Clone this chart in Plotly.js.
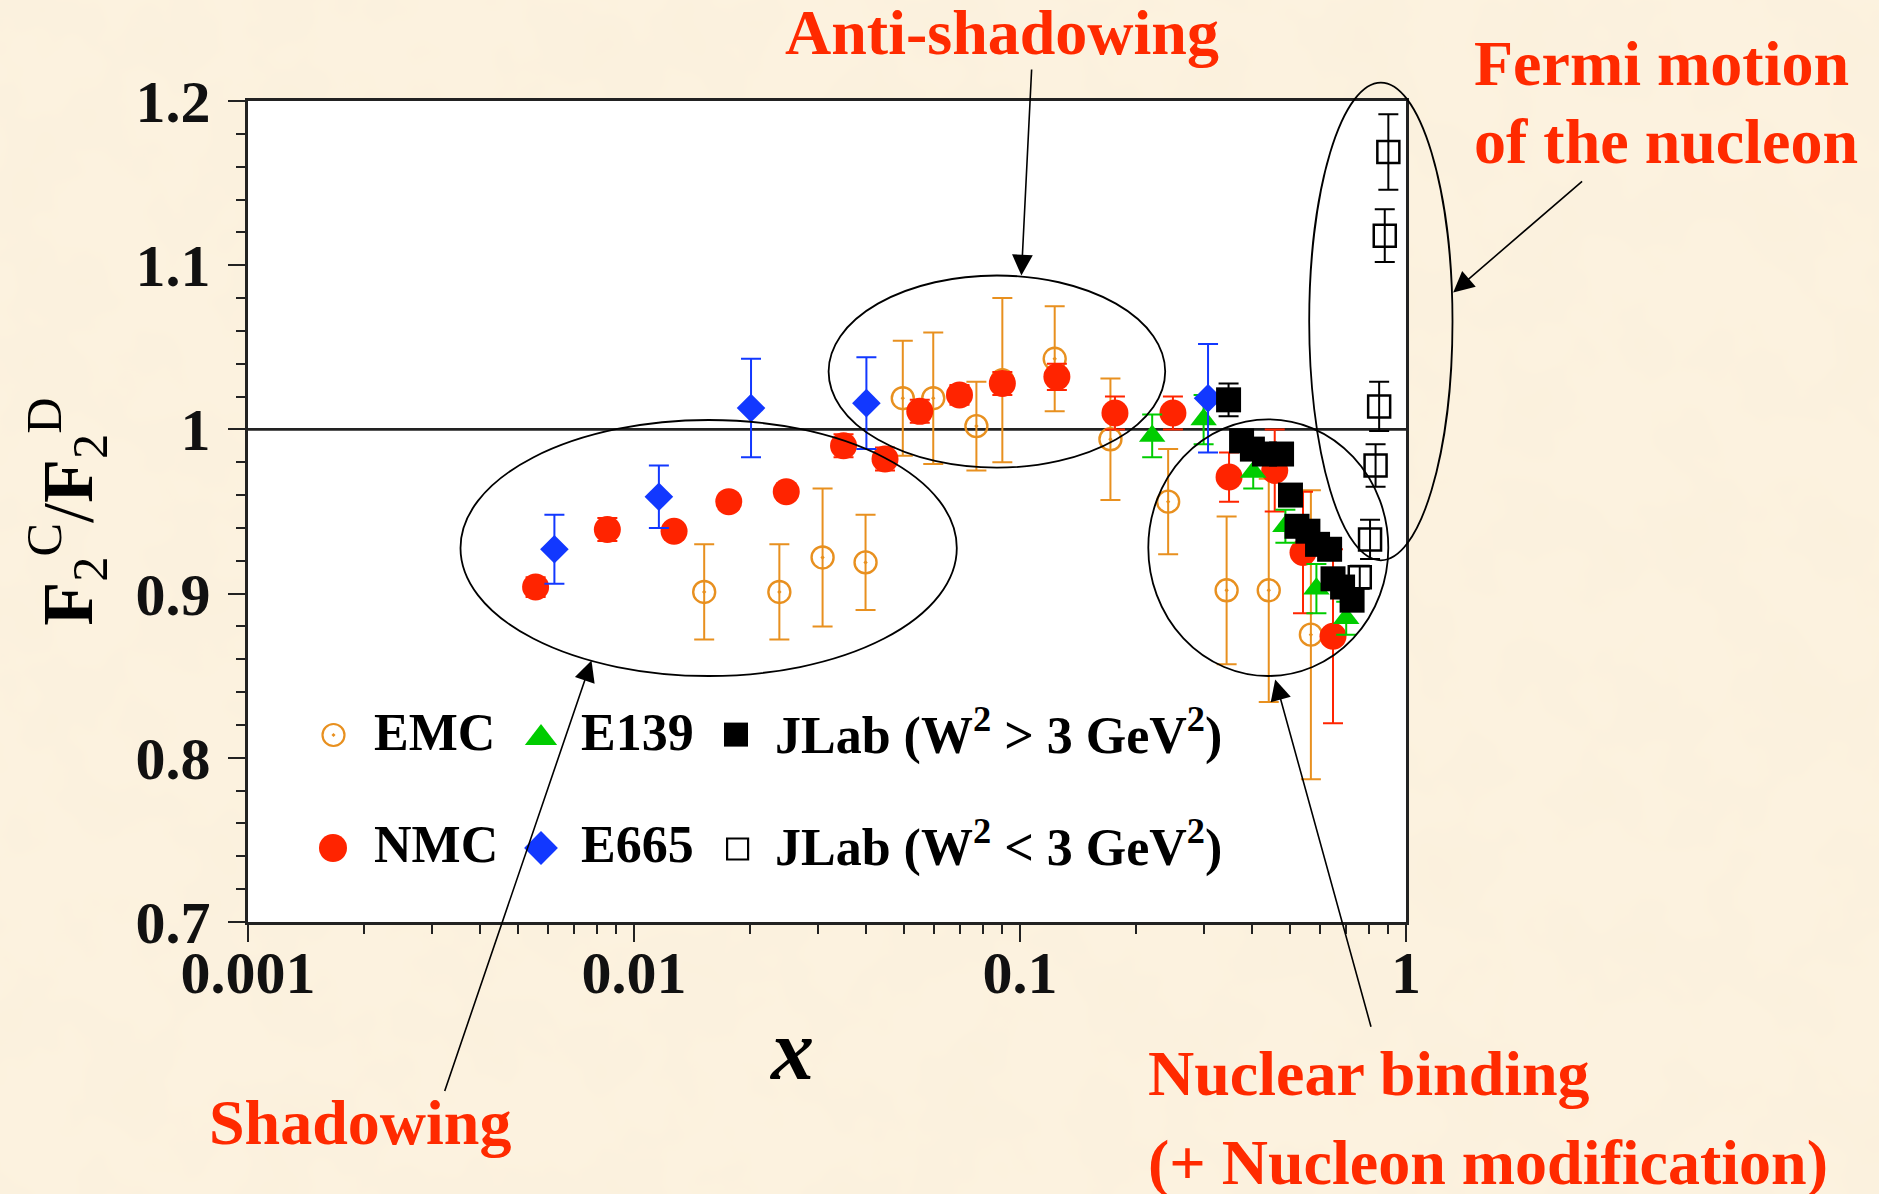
<!DOCTYPE html>
<html>
<head>
<meta charset="utf-8">
<script src="https://cdn.plot.ly/plotly-3.0.1.min.js"></script>
<style>
  html, body { margin: 0; padding: 0; }
  body {
    width: 1879px; height: 1194px; overflow: hidden;
    background-color: #FCF2DF;
    background-image: url("data:image/svg+xml,%3Csvg xmlns='http://www.w3.org/2000/svg' width='1879' height='1194'%3E%3Cfilter id='n'%3E%3CfeTurbulence type='fractalNoise' baseFrequency='0.012' numOctaves='3' seed='7'/%3E%3CfeColorMatrix values='0 0 0 0 0.93 0 0 0 0 0.84 0 0 0 0 0.68 0.55 0 0 0 -0.2'/%3E%3C/filter%3E%3Crect width='100%25' height='100%25' filter='url(%23n)'/%3E%3C/svg%3E");
  }
  #chart { width: 1879px; height: 1194px; }
</style>
</head>
<body>
<div id="chart"></div>
<script>
// F2(C)/F2(D) ratio measurements vs Bjorken x

// EMC
const emcX   = [0.0152, 0.0238, 0.0308, 0.0398, 0.0497, 0.0596, 0.0771, 0.090, 0.123, 0.1715, 0.242, 0.343, 0.441, 0.567];
const emcY   = [0.901, 0.901, 0.922, 0.919, 1.019, 1.019, 1.002, 1.030, 1.043, 0.994, 0.956, 0.902, 0.902, 0.875];
const emcErr = [0.029, 0.029, 0.042, 0.029, 0.035, 0.040, 0.027, 0.050, 0.032, 0.037, 0.032, 0.045, 0.068, 0.088];

// NMC
const nmcX   = [0.00556, 0.00853, 0.0127, 0.0176, 0.0248, 0.0349, 0.0447, 0.055, 0.0697, 0.090, 0.1246, 0.1762, 0.249, 0.348, 0.457, 0.541, 0.647];
const nmcY   = [0.904, 0.939, 0.938, 0.956, 0.962, 0.990, 0.982, 1.011, 1.021, 1.028, 1.032, 1.010, 1.010, 0.971, 0.975, 0.925, 0.874];
const nmcErr = [0.006, 0.007, 0.005, 0.005, 0.005, 0.007, 0.007, 0.007, 0.006, 0.007, 0.008, 0.010, 0.010, 0.015, 0.025, 0.037, 0.053];

// E139
const e139X   = [0.220, 0.299, 0.402, 0.487, 0.586, 0.700];
const e139Y   = [0.996, 1.006, 0.974, 0.941, 0.903, 0.885];
const e139Err = [0.013, 0.015, 0.010, 0.010, 0.015, 0.010];

// E665
const e665X   = [0.00622, 0.0116, 0.0201, 0.0400, 0.307];
const e665Y   = [0.927, 0.959, 1.013, 1.016, 1.019];
const e665Err = [0.021, 0.019, 0.030, 0.028, 0.033];

// JLab, W^2 > 3 GeV^2
const jlabHiX   = [0.347, 0.375, 0.400, 0.430, 0.476, 0.502, 0.522, 0.557, 0.590, 0.634, 0.647, 0.685, 0.725];
const jlabHiY   = [1.018, 0.993, 0.988, 0.985, 0.985, 0.960, 0.941, 0.938, 0.930, 0.927, 0.909, 0.904, 0.896];
const jlabHiErr = [0.010, 0.005, 0.005, 0.005, 0.005, 0.005, 0.005, 0.005, 0.005, 0.005, 0.005, 0.005, 0.005];

// JLab, W^2 < 3 GeV^2
const jlabLoX   = [0.759, 0.807, 0.834, 0.852, 0.881, 0.900];
const jlabLoY   = [0.910, 0.933, 0.978, 1.014, 1.118, 1.169];
const jlabLoErr = [0.007, 0.012, 0.013, 0.015, 0.016, 0.023];

// axis tick labels
const xTickVals = [0.001, 0.01, 0.1, 1];
const xTickText = ['0.001', '0.01', '0.1', '1'];
const yTickVals = [0.7, 0.8, 0.9, 1.0, 1.1, 1.2];
const yTickText = ['0.7', '0.8', '0.9', '1', '1.1', '1.2'];

// legend entries (two rows of three)
const legendLabels = [
  'EMC', 'E139', 'JLab (W<sup>2</sup> &gt; 3 GeV<sup>2</sup>)',
  'NMC', 'E665', 'JLab (W<sup>2</sup> &lt; 3 GeV<sup>2</sup>)'
];

// region labels
const regionLabels = ['Anti-shadowing', 'Fermi motion', 'of the nucleon', 'Shadowing',
                      'Nuclear binding', '(+ Nucleon modification)'];

// ---------- page geometry (pixels) ----------
const W = 1879, H = 1194;
const M = { l: 248, r: 473, t: 101, b: 272 };
const PW = W - M.l - M.r, PH = H - M.t - M.b;
const px = v => (v - M.l) / PW;          // page x -> paper x
const py = v => (H - M.b - v) / PH;      // page y -> paper y

const SERIF = 'Liberation Serif, Times New Roman, serif';
const RED = '#FF2A00';
const C = { emc: '#E8901F', nmc: '#FF2400', e139: '#00CC00', e665: '#1238FF', jlab: '#000000' };

function errBar(arr, color) {
  return { type: 'data', array: arr, visible: true, color: color, thickness: 2, width: 10 };
}

const traces = [
  { x: emcX, y: emcY, error_y: errBar(emcErr, C.emc), mode: 'markers', type: 'scatter',
    marker: { symbol: 'circle-open-dot', size: 22, color: C.emc, line: { width: 2.4, color: C.emc } }, name: 'EMC' },
  { x: nmcX, y: nmcY, error_y: errBar(nmcErr, C.nmc), mode: 'markers', type: 'scatter',
    marker: { symbol: 'circle', size: 27, color: C.nmc }, name: 'NMC' },
  { x: e139X, y: e139Y, error_y: errBar(e139Err, C.e139), mode: 'markers', type: 'scatter',
    marker: { symbol: 'triangle-up', size: 23, color: C.e139 }, name: 'E139' },
  { x: e665X, y: e665Y, error_y: errBar(e665Err, C.e665), mode: 'markers', type: 'scatter',
    marker: { symbol: 'diamond', size: 22, color: C.e665 }, name: 'E665' },
  { x: jlabHiX, y: jlabHiY, error_y: errBar(jlabHiErr, C.jlab), mode: 'markers', type: 'scatter',
    marker: { symbol: 'square', size: 25, color: C.jlab }, name: 'JLab W2>3' },
  { x: jlabLoX, y: jlabLoY, error_y: errBar(jlabLoErr, C.jlab), mode: 'markers', type: 'scatter',
    marker: { symbol: 'square-open', size: 22, color: C.jlab, line: { width: 2.5, color: C.jlab } }, name: 'JLab W2<3' }
];
traces.forEach(t => { t.showlegend = false; t.hoverinfo = 'x+y'; t.marker.opacity = 1; });

// legend keys drawn on an overlay axis spanning the plot area
const keyPos = {
  x: [px(333.5), px(541), px(736), px(333), px(541), px(737.6)],
  y: [py(735), py(738), py(734.6), py(848), py(848), py(849)]
};
traces.push({
  x: keyPos.x, y: keyPos.y, xaxis: 'x2', yaxis: 'y2', mode: 'markers', type: 'scatter',
  showlegend: false, hoverinfo: 'skip',
  marker: {
    opacity: 1,
    symbol: ['circle-open-dot', 'triangle-up', 'square', 'circle', 'diamond', 'square-open'],
    size: [22, 28, 24, 28, 26, 21],
    color: [C.emc, C.e139, C.jlab, C.nmc, C.e665, C.jlab],
    line: { width: [2.2, 0, 0, 0, 0, 2.2], color: [C.emc, C.e139, C.jlab, C.nmc, C.e665, C.jlab] }
  }
});

const legendTextX = [372, 579, 773, 372, 579, 773];
const legendTextY = [732, 732, 732, 844, 844, 844];

const annotations = [];
legendLabels.forEach((t, i) => annotations.push({
  xref: 'paper', yref: 'paper', x: px(legendTextX[i]), y: py(legendTextY[i]),
  xanchor: 'left', yanchor: 'middle', showarrow: false, text: t,
  font: { family: SERIF, size: 52, weight: 'bold', color: '#000' }
}));

// region labels
const labelPos = [
  { x: 1002, y: 33, a: 'center' },
  { x: 1472, y: 64, a: 'left' },
  { x: 1472, y: 141, a: 'left' },
  { x: 207, y: 1122, a: 'left' },
  { x: 1146, y: 1073, a: 'left' },
  { x: 1146, y: 1162, a: 'left' }
];
regionLabels.forEach((t, i) => annotations.push({
  xref: 'paper', yref: 'paper', x: px(labelPos[i].x), y: py(labelPos[i].y),
  xanchor: labelPos[i].a, yanchor: 'middle', showarrow: false, text: t,
  font: { family: SERIF, size: 64, weight: 'bold', color: RED }
}));

// x-axis label
annotations.push({
  xref: 'paper', yref: 'paper', x: px(791), y: py(1050), xanchor: 'center', yanchor: 'middle',
  showarrow: false, text: '<b><i>x</i></b>',
  font: { family: SERIF, size: 86, color: '#000' }
});

// arrows from labels to the circled regions: tip and tail in page pixels
const arrows = [
  { tip: [1021.4, 275.5], tail: [1031.7, 68] },
  { tip: [1453.2, 292.4], tail: [1583.6, 180] },
  { tip: [591.5, 660.6], tail: [444.2, 1092.4] },
  { tip: [1275.2, 679.5], tail: [1371.4, 1028.2] }
];
arrows.forEach(a => annotations.push({
  xref: 'paper', yref: 'paper', x: px(a.tip[0]), y: py(a.tip[1]),
  ax: a.tail[0] - a.tip[0], ay: a.tail[1] - a.tip[1], axref: 'pixel', ayref: 'pixel',
  text: '', showarrow: true, arrowhead: 2, arrowsize: 2.6, arrowwidth: 1.6, arrowcolor: '#000', standoff: 0
}));

// ellipses around the regions, page pixels
const ellipses = [
  [460.5, 420, 956.8, 676],
  [828.6, 275.5, 1165.2, 467.7],
  [1148.3, 419.3, 1388.3, 676],
  [1309.2, 82.6, 1452.5, 560.3]
];
const shapes = ellipses.map(e => ({
  type: 'circle', xref: 'paper', yref: 'paper', layer: 'above',
  x0: px(e[0]), x1: px(e[2]), y0: py(e[3]), y1: py(e[1]),
  line: { color: '#000', width: 1.8 }, fillcolor: 'rgba(0,0,0,0)'
}));
// unity reference line
shapes.push({ type: 'line', xref: 'paper', yref: 'y', x0: 0, x1: 1, y0: 1, y1: 1,
  layer: 'below', line: { color: '#222', width: 2.6 } });

const xMinor = [];
[0.001, 0.01, 0.1].forEach(d => { for (let k = 2; k <= 9; k++) xMinor.push(+(k * d).toPrecision(3)); });
const yMinor = [];
for (let k = 0; k <= 25; k++) { const v = +(0.7 + 0.02 * k).toFixed(2); if (Math.round(v * 100) % 10 !== 0) yMinor.push(v); }

const axisCommon = {
  showline: true, mirror: true, linecolor: '#222', linewidth: 2.6,
  ticks: 'outside', ticklen: 17, tickwidth: 2, tickcolor: '#222',
  showgrid: false, zeroline: false,
  tickfont: { family: SERIF, size: 60, weight: 'bold', color: '#111' }
};

const layout = {
  width: W, height: H,
  margin: M,
  paper_bgcolor: 'rgba(0,0,0,0)',
  plot_bgcolor: '#FFFFFF',
  showlegend: false,
  xaxis: Object.assign({}, axisCommon, {
    type: 'log', range: [-3, 0],
    tickmode: 'array', tickvals: xTickVals, ticktext: xTickText,
    ticklabelstandoff: -21,
    minor: { tickmode: 'array', tickvals: xMinor, ticks: 'outside', ticklen: 9, tickwidth: 2, tickcolor: '#222', showgrid: false }
  }),
  yaxis: Object.assign({}, axisCommon, {
    range: [0.7, 1.2],
    tickmode: 'array', tickvals: yTickVals, ticktext: yTickText,
    ticklabelstandoff: 6,
    minor: { tickmode: 'array', tickvals: yMinor, ticks: 'outside', ticklen: 9, tickwidth: 2, tickcolor: '#222', showgrid: false },
    title: { text: '<b>F</b><sub>2</sub><sup>C</sup>/<b>F</b><sub>2</sub><sup>D</sup>',
             font: { family: SERIF, size: 72, color: '#000' }, standoff: 20 }
  }),
  xaxis2: { overlaying: 'x', anchor: 'y2', range: [0, 1], visible: false, fixedrange: true },
  yaxis2: { overlaying: 'y', anchor: 'x2', range: [0, 1], visible: false, fixedrange: true },
  shapes: shapes,
  annotations: annotations
};

Plotly.newPlot('chart', traces, layout, { displayModeBar: false, staticPlot: true });
</script>
</body>
</html>
